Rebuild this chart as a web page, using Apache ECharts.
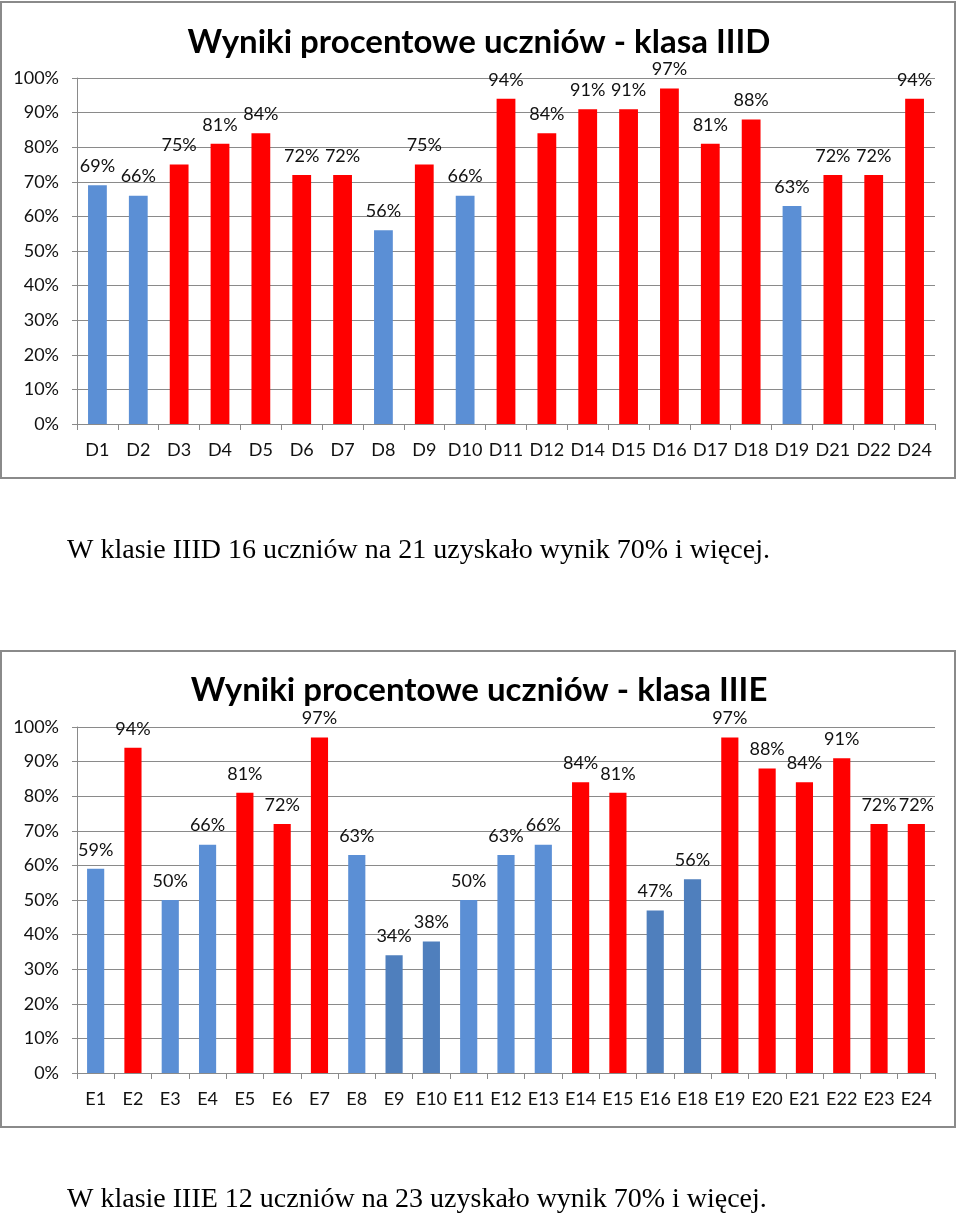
<!DOCTYPE html>
<html>
<head>
<meta charset="utf-8">
<script src="https://cdn.jsdelivr.net/npm/echarts@6/dist/echarts.min.js"></script>
<style>
html,body{margin:0;padding:0;background:#fff;}
#c{width:960px;height:1219px;}
</style>
</head>
<body>
<div id="c"></div>
<script>
const titleD = 'Wyniki procentowe uczniów - klasa IIID';
const titleE = 'Wyniki procentowe uczniów - klasa IIIE';
const captionD = 'W klasie IIID 16 uczniów na 21 uzyskało wynik 70% i więcej.';
const captionE = 'W klasie IIIE 12 uczniów na 23 uzyskało wynik 70% i więcej.';
const catsD = ['D1','D2','D3','D4','D5','D6','D7','D8','D9','D10','D11','D12','D14','D15','D16','D17','D18','D19','D21','D22','D24'];
const valsD = [69,66,75,81,84,72,72,56,75,66,94,84,91,91,97,81,88,63,72,72,94];
const catsE = ['E1','E2','E3','E4','E5','E6','E7','E8','E9','E10','E11','E12','E13','E14','E15','E16','E18','E19','E20','E21','E22','E23','E24'];
const valsE = [59,94,50,66,81,72,97,63,34,38,50,63,66,84,81,47,56,97,88,84,91,72,72];
const darkerE = ['E9','E10','E16','E18'];
const threshold = 70;
const yTicks = [0,10,20,30,40,50,60,70,80,90,100];

const RED = '#ff0000', BLUE = '#5b8fd5', DBLUE = '#4f7fbd';
const FONT = 'Lato, "Open Sans", sans-serif';
const GREY = '#8a8a8a';

function colorFor(cat, v, dark) {
  if (v >= threshold) return RED;
  if (dark && dark.indexOf(cat) >= 0) return DBLUE;
  return BLUE;
}

function xAxis(cats, gi) {
  return {
    type: 'category', gridIndex: gi, data: cats,
    axisLine: {lineStyle: {color: GREY, width: 1}},
    axisTick: {show: true, alignWithLabel: false, length: 6, lineStyle: {color: GREY}},
    axisLabel: {color: '#111', fontSize: 18, fontFamily: FONT, margin: 17, interval: 0}
  };
}
function yAxis(gi) {
  return {
    type: 'value', gridIndex: gi, min: yTicks[0], max: yTicks[yTicks.length-1], interval: yTicks[1]-yTicks[0],
    axisLine: {show: true, lineStyle: {color: GREY, width: 1}},
    axisTick: {show: true, length: 5, lineStyle: {color: GREY}},
    splitLine: {show: true, lineStyle: {color: GREY, width: 1}},
    axisLabel: {color: '#111', fontSize: 18, fontFamily: FONT, margin: 18, formatter: '{value}%'}
  };
}
function series(cats, vals, gi, dark) {
  return {
    type: 'bar', xAxisIndex: gi, yAxisIndex: gi, barWidth: '46%',
    data: vals.map((v, i) => ({value: v, itemStyle: {color: colorFor(cats[i], v, dark)}})),
    label: {show: true, position: 'top', distance: 10, color: '#111', fontSize: 18, fontFamily: FONT, formatter: '{c}%'},
    animation: false
  };
}

const chart = echarts.init(document.getElementById('c'), null, {renderer: 'canvas'});
chart.setOption({
  backgroundColor: '#fff',
  animation: false,
  grid: [
    {left: 77, top: 78, width: 858, height: 346},
    {left: 77, top: 727, width: 858, height: 346}
  ],
  xAxis: [xAxis(catsD, 0), xAxis(catsE, 1)],
  yAxis: [yAxis(0), yAxis(1)],
  series: [series(catsD, valsD, 0, null), series(catsE, valsE, 1, darkerE)],
  graphic: [
    {type: 'rect', shape: {x: 1, y: 2, width: 954, height: 476}, style: {fill: 'none', stroke: GREY, lineWidth: 2}, z: -1},
    {type: 'rect', shape: {x: 1, y: 651, width: 954, height: 476}, style: {fill: 'none', stroke: GREY, lineWidth: 2}, z: -1},
    {type: 'text', x: 479, y: 42, style: {text: titleD, font: 'bold 33px ' + FONT, fill: '#000', align: 'center', verticalAlign: 'middle'}},
    {type: 'text', x: 479, y: 690, style: {text: titleE, font: 'bold 33px ' + FONT, fill: '#000', align: 'center', verticalAlign: 'middle'}},
    {type: 'text', x: 67, y: 551, style: {text: captionD, font: '28px "Liberation Serif", "DejaVu Serif", serif', fill: '#000', align: 'left', verticalAlign: 'middle'}},
    {type: 'text', x: 67, y: 1200, style: {text: captionE, font: '28px "Liberation Serif", "DejaVu Serif", serif', fill: '#000', align: 'left', verticalAlign: 'middle'}}
  ]
});
</script>
</body>
</html>
